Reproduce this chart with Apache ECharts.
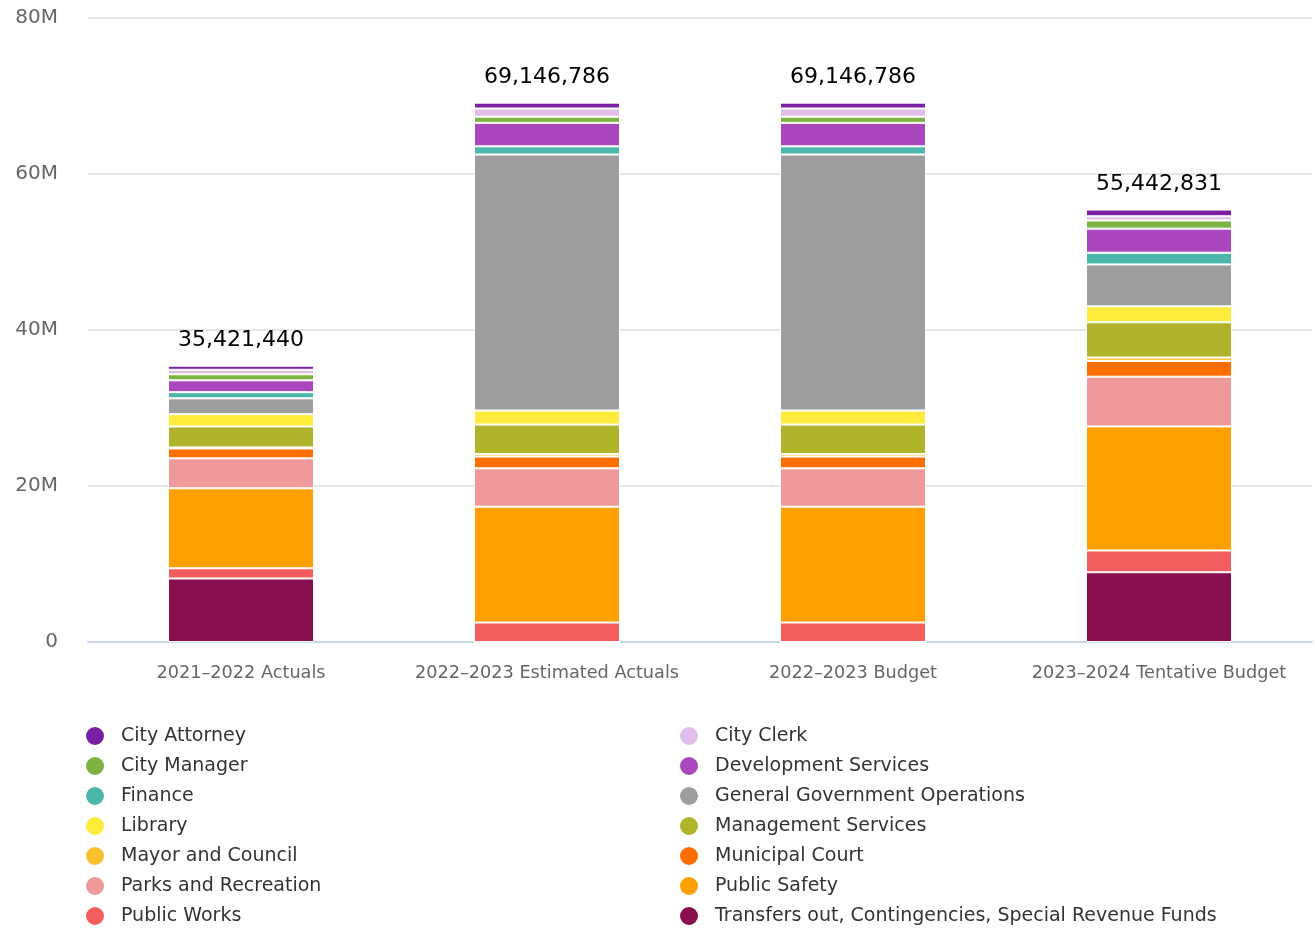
<!DOCTYPE html>
<html>
<head>
<meta charset="utf-8">
<title>General Fund Expenditures by Department</title>
<script src="https://cdn.jsdelivr.net/npm/echarts@6/dist/echarts.min.js"></script>
<style>
  html, body { margin: 0; padding: 0; background: #fff; }
  #chart { width: 1315px; height: 932px; }
</style>
</head>
<body>
<div id="chart"></div>
<script>
// Fiscal periods shown on the x axis
const categories = ['2021–2022 Actuals', '2022–2023 Estimated Actuals', '2022–2023 Budget', '2023–2024 Tentative Budget'];

// Departments, in legend order (top of each stack first)
const departments = [
  'City Attorney', 'City Clerk', 'City Manager', 'Development Services', 'Finance',
  'General Government Operations', 'Library', 'Management Services', 'Mayor and Council',
  'Municipal Court', 'Parks and Recreation', 'Public Safety', 'Public Works',
  'Transfers out, Contingencies, Special Revenue Funds'
];

// Spending per department (dollars), one value per period
const cityAttorney        = [520000, 750000, 750000, 860000];
const cityClerk           = [580000, 1050000, 1050000, 540000];
const cityManager         = [770000, 790000, 790000, 1050000];
const developmentServices = [1520000, 3010000, 3010000, 3090000];
const finance             = [790000, 1050000, 1050000, 1500000];
const generalGovernment   = [2030000, 32820000, 32820000, 5360000];
const library             = [1580000, 1800000, 1800000, 2050000];
const managementServices  = [2690000, 3780000, 3780000, 4520000];
const mayorAndCouncil     = [130000, 320000, 320000, 440000];
const municipalCourt      = [1260000, 1510000, 1510000, 2020000];
const parksAndRecreation  = [3840000, 4920000, 4920000, 6380000];
const publicSafety        = [10260000, 14850000, 14850000, 15900000];
const publicWorks         = [1310000, 2496786, 2496786, 2790000];
const transfersOut        = [8141440, 0, 0, 8942831];

// Y axis tick labels
const yTickLabels = { 0: '0', 20000000: '20M', 40000000: '40M', 60000000: '60M', 80000000: '80M' };

const values = [
  cityAttorney, cityClerk, cityManager, developmentServices, finance,
  generalGovernment, library, managementServices, mayorAndCouncil,
  municipalCourt, parksAndRecreation, publicSafety, publicWorks, transfersOut
];

const colors = [
  '#7b1fa2', '#e1bee7', '#7cb342', '#ab47bc', '#4db6ac',
  '#9e9e9e', '#ffeb3b', '#afb42b', '#fbc02d',
  '#ff6f00', '#ef9a9a', '#ffa000', '#f55e5e', '#880e4f'
];

// Stack totals for the labels above each bar
const totals = categories.map((_, i) => values.reduce((s, arr) => s + arr[i], 0));

const FONT = 'DejaVu Sans';

// ECharts stacks the first series at the bottom, so add them in reverse
const series = [];
for (let k = departments.length - 1; k >= 0; k--) {
  const s = {
    name: departments[k],
    type: 'bar',
    stack: 'total',
    barWidth: 146,
    data: values[k],
    itemStyle: { color: colors[k], borderColor: '#ffffff', borderWidth: 1 },
    emphasis: { disabled: true }
  };
  if (k === 0) {
    s.label = {
      show: true,
      position: 'top',
      distance: 14,
      fontFamily: FONT,
      fontSize: 22,
      color: '#000',
      formatter: p => totals[p.dataIndex].toLocaleString('en-US')
    };
  }
  series.push(s);
}

// Two legend columns, read row by row
const leftLegend = departments.filter((_, i) => i % 2 === 0);
const rightLegend = departments.filter((_, i) => i % 2 === 1);

const legendBase = {
  orient: 'vertical',
  top: 725,
  bottom: 0,
  padding: 0,
  icon: 'circle',
  itemWidth: 20,
  itemHeight: 20,
  itemGap: 8,
  selectedMode: false,
  textStyle: { fontFamily: FONT, fontSize: 19, color: '#333', padding: [0, 0, 0, 11] }
};

const chart = echarts.init(document.getElementById('chart'), null, { renderer: 'canvas' });
chart.setOption({
  animation: false,
  color: colors,
  grid: { left: 88, right: 3, top: 18, bottom: 290, containLabel: false },
  legend: [
    Object.assign({}, legendBase, { left: 84, data: leftLegend }),
    Object.assign({}, legendBase, { left: 678, data: rightLegend })
  ],
  xAxis: {
    type: 'category',
    data: categories,
    axisLine: { lineStyle: { color: '#ccd6eb', width: 2 } },
    axisTick: { show: false },
    axisLabel: { interval: 0, fontFamily: FONT, fontSize: 17.7, color: '#666', margin: 22 }
  },
  yAxis: {
    type: 'value',
    min: 0,
    max: 80000000,
    interval: 20000000,
    axisLine: { show: false },
    axisTick: { show: false },
    splitLine: { lineStyle: { color: '#e6e6e6', width: 2 } },
    axisLabel: {
      fontFamily: FONT,
      fontSize: 20,
      color: '#666',
      margin: 30,
      formatter: v => yTickLabels[v]
    }
  },
  series: series
});
</script>
</body>
</html>
